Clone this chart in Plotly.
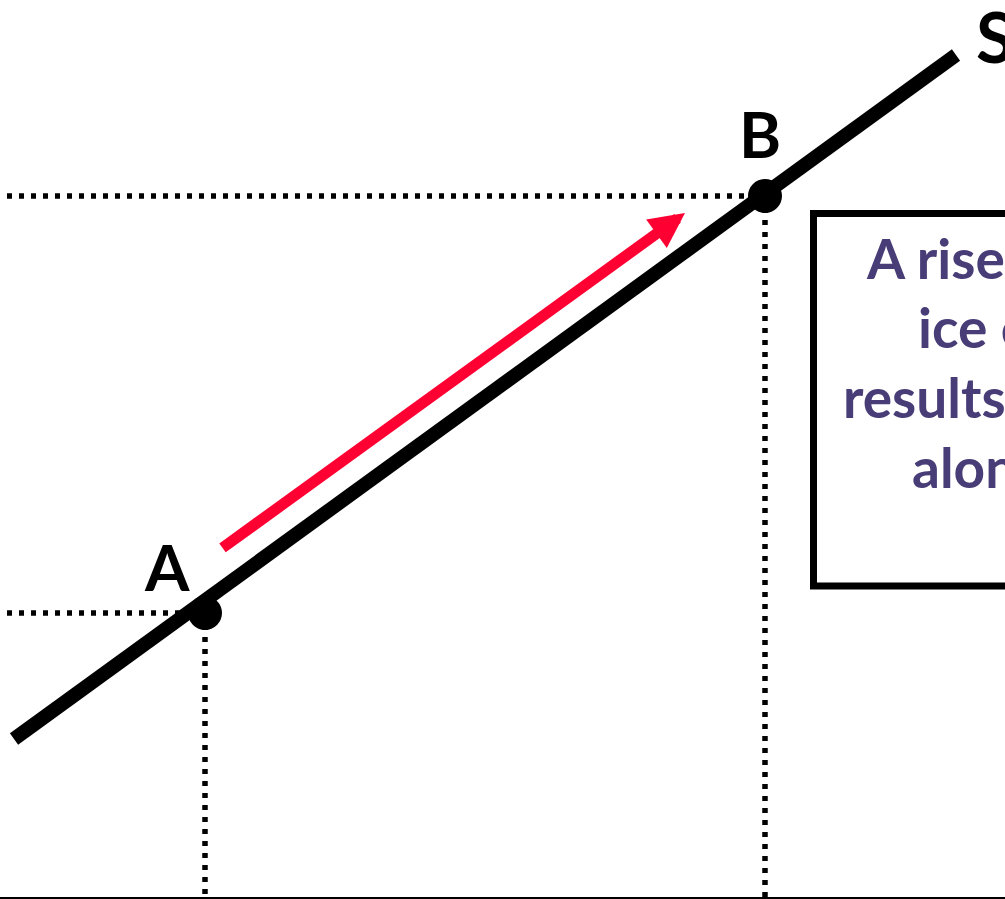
import plotly.graph_objects as go

# ---- data (diagram units: quantity on x, price on y) ----
supply_q = [14, 956]
supply_p = [159, 843]

point_names = ["A", "B"]
point_q = [205, 765]
point_p = [285, 702]

arrow_tail = [221, 349]
arrow_tip = [685, 685]

box_lines = ["A rise in the price of", "ice cream supply", "results in a movement", "along the supply curve"]

W, H = 1005, 899
BLACK = "#000000"
RED = "#FF0033"
PURPLE = "#483D76"
DOT = "5px,7px"

fig = go.Figure()

# dotted guide lines from each point to the axes
for q, p in zip(point_q, point_p):
    fig.add_trace(go.Scatter(x=[-5, q], y=[p, p], mode="lines",
                             line=dict(color=BLACK, width=5.5, dash=DOT), hoverinfo="skip"))
    fig.add_trace(go.Scatter(x=[q, q], y=[p, 0], mode="lines",
                             line=dict(color=BLACK, width=5.5, dash=DOT), hoverinfo="skip"))

# supply curve
fig.add_trace(go.Scatter(x=supply_q, y=supply_p, mode="lines",
                         line=dict(color=BLACK, width=14), hoverinfo="skip"))

# points A and B
fig.add_trace(go.Scatter(x=point_q, y=point_p, mode="markers",
                         marker=dict(color=BLACK, size=34, line=dict(width=0)),
                         hoverinfo="skip"))

# x axis line
fig.add_shape(type="line", xref="paper", yref="y", x0=0, x1=1, y0=0, y1=0,
              line=dict(color=BLACK, width=2))

# text box
fig.add_shape(type="rect", xref="x", yref="y", x0=813.5, x1=1300, y0=312, y1=684.5,
              line=dict(color=BLACK, width=7), fillcolor="rgba(0,0,0,0)")

# red movement arrow
fig.add_annotation(x=arrow_tip[0], y=arrow_tip[1], ax=arrow_tail[0], ay=arrow_tail[1],
                   xref="x", yref="y", axref="x", ayref="y", text="",
                   showarrow=True, arrowhead=2, arrowsize=0.64, arrowwidth=11,
                   arrowcolor=RED, standoff=0)

label_font = dict(family="Lato", size=64, color=BLACK, weight="bold")
fig.add_annotation(x=166.5, y=898 - 566, text=point_names[0], showarrow=False,
                   xanchor="center", yanchor="middle", font=label_font)
fig.add_annotation(x=760, y=898 - 133, text=point_names[1], showarrow=False,
                   xanchor="center", yanchor="middle", font=label_font)
fig.add_annotation(x=974, y=898 - 36, text="S", showarrow=False,
                   xanchor="left", yanchor="middle",
                   font=dict(family="Lato", size=70, color=BLACK, weight="bold"))

text_font = dict(family="Lato", size=55, color=PURPLE, weight="bold")
line_x = [864, 916, 841, 910]
line_y = [898 - 258, 898 - 327, 898 - 397, 898 - 467]
for t, lx, ly in zip(box_lines, line_x, line_y):
    fig.add_annotation(x=lx, y=ly, text=t, showarrow=False, xanchor="left",
                       yanchor="middle", font=text_font)

fig.update_layout(
    width=W, height=H,
    margin=dict(l=0, r=0, t=0, b=0),
    paper_bgcolor="white", plot_bgcolor="white",
    showlegend=False,
    xaxis=dict(range=[0, 1005], visible=False, fixedrange=True),
    yaxis=dict(range=[-1, 898], visible=False, fixedrange=True),
)

fig.write_html("out.html", config={"displayModeBar": False},
               post_script="document.body.style.margin='0';document.body.style.overflow='hidden';")
